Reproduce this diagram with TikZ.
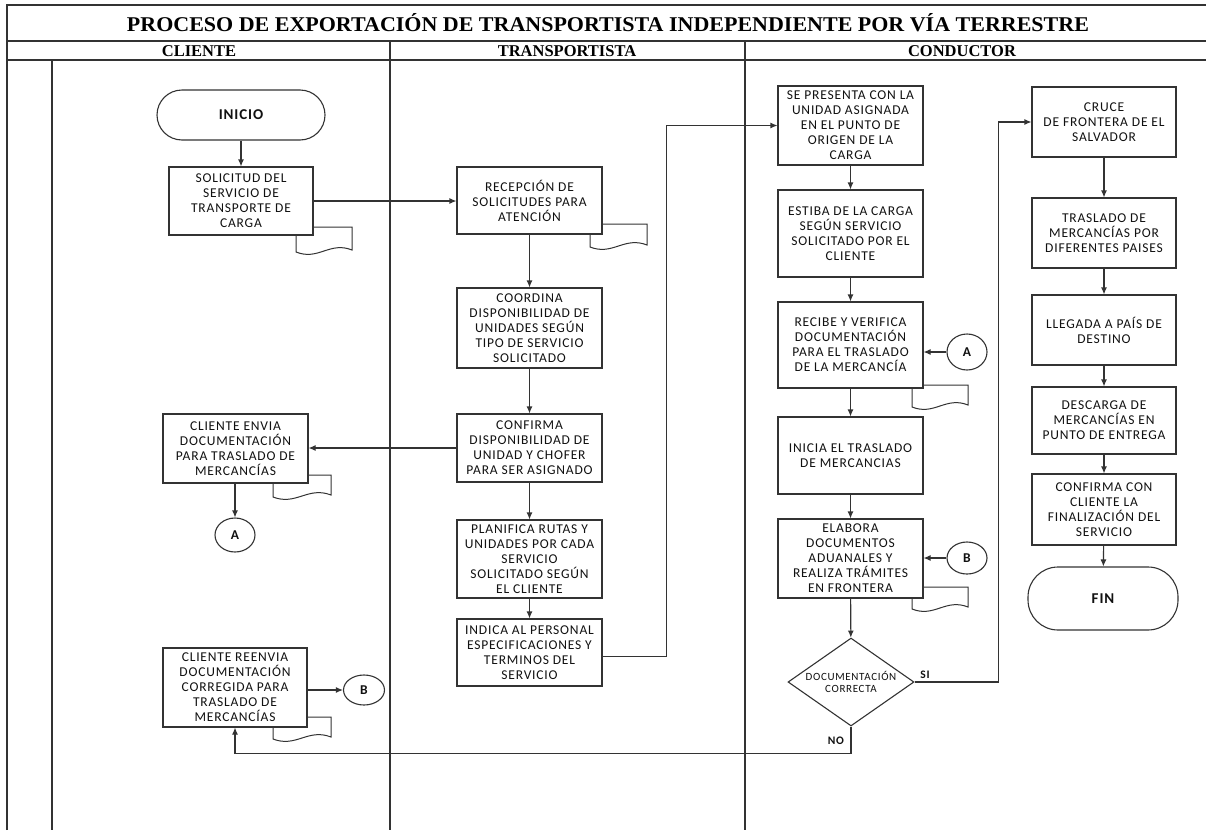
\documentclass[tikz,border=0pt]{standalone}
\usepackage{fontspec}
\usepackage{graphicx}
\usetikzlibrary{arrows.meta,shapes.geometric}
\newfontfamily\carl[LetterSpace=6]{Carlito}
\newfontfamily\tms{Liberation Serif}
\definecolor{lc}{HTML}{333333}
\definecolor{tc}{HTML}{111111}
\newcommand{\docw}[4]{\draw[docst] (#1,#2) -- (#3,#2) -- (#3,{#4-5}) .. controls ({#1+0.6*(#3-#1)},{#4-14}) and ({#1+0.4*(#3-#1)},{#4+6}) .. (#1,{#4-3}) -- cycle;}
\tikzset{
  docst/.style={draw=lc, line width=1pt, fill=white},
  box/.style={draw=lc, line width=1.1pt, fill=white, align=center, text=tc, inner sep=0pt,
    font=\carl\fontsize{13.5}{15}\selectfont},
  term/.style={draw=lc, line width=1.1pt, fill=white, rounded corners=25pt, text=tc, inner sep=0pt,
    font=\carl\bfseries\fontsize{15}{16}\selectfont},
  conn/.style={ellipse, draw=lc, line width=1.1pt, fill=white, text=tc, inner sep=0pt,
    font=\carl\bfseries\fontsize{13.5}{15}\selectfont},
  arr/.style={draw=lc, line width=1.1pt, -{Latex[length=7pt,width=6pt]}},
  lane/.style={draw=lc, line width=1.3pt},
  hdr/.style={font=\tms\bfseries\fontsize{16.5}{16.5}\selectfont, text=black, inner sep=0pt},
  lbl/.style={font=\carl\bfseries\fontsize{11.5}{12}\selectfont, text=tc, inner sep=0pt}
}
\begin{document}
\begin{tikzpicture}[x=1pt,y=-1pt]
\useasboundingbox (0,0) rectangle (1206,830);
% frame
\draw[lane, line width=2.2pt] (7,830) -- (7,5) -- (1206,5);
\draw[lane] (7,41) -- (1206,41);
\draw[lane] (7,60) -- (1206,60);
\draw[lane] (52,60) -- (52,830);
\draw[lane] (390,41) -- (390,830);
\draw[lane] (745,41) -- (745,830);
\node[hdr] (title) at (608,23) {\resizebox{962pt}{\height}{\fontsize{21}{21}\selectfont PROCESO DE EXPORTACIÓN DE TRANSPORTISTA INDEPENDIENTE POR VÍA TERRESTRE}};
\node[hdr] (h1) at (199,51) {CLIENTE};
\node[hdr] (h2) at (567,51) {TRANSPORTISTA};
\node[hdr] (h3) at (962,51) {CONDUCTOR};
% document shapes (behind boxes)
\docw{296}{227}{352}{255}
\docw{590}{224}{647}{250}
\docw{273}{475}{331}{500}
\docw{273}{717}{331}{742}
\docw{912}{385}{968}{410}
\docw{912}{587}{968}{612}
% client lane
\node[term, minimum width=168pt, minimum height=50pt] (inicio) at (241,115) {INICIO};
\node[box, minimum width=144pt, minimum height=68pt] (solicitud) at (241,201) {SOLICITUD DEL\\SERVICIO DE\\TRANSPORTE DE\\CARGA};
\node[box, minimum width=145pt, minimum height=69pt] (envia) at (235.5,448.5) {CLIENTE ENVIA\\DOCUMENTACIÓN\\PARA TRASLADO DE\\MERCANCÍAS};
\node[conn, minimum width=40pt, minimum height=34pt] (a1) at (235,535) {A};
\node[box, minimum width=144pt, minimum height=79pt] (reenvia) at (235,687.5) {CLIENTE REENVIA\\DOCUMENTACIÓN\\CORREGIDA PARA\\TRASLADO DE\\MERCANCÍAS};
\node[conn, minimum width=41pt, minimum height=30pt] (b1) at (364,690) {B};
% transportista lane
\node[box, minimum width=145pt, minimum height=67pt] (recepcion) at (529.5,200.5) {RECEPCIÓN DE\\SOLICITUDES PARA\\ATENCIÓN};
\node[box, minimum width=145pt, minimum height=80pt] (coordina) at (529.5,328) {COORDINA\\DISPONIBILIDAD DE\\UNIDADES SEGÚN\\TIPO DE SERVICIO\\SOLICITADO};
\node[box, minimum width=145pt, minimum height=68pt] (confirma) at (529.5,448) {CONFIRMA\\DISPONIBILIDAD DE\\UNIDAD Y CHOFER\\PARA SER ASIGNADO};
\node[box, minimum width=145pt, minimum height=78pt] (planifica) at (529.5,559) {PLANIFICA RUTAS Y\\UNIDADES POR CADA\\SERVICIO\\SOLICITADO SEGÚN\\EL CLIENTE};
\node[box, minimum width=145pt, minimum height=67pt] (indica) at (529.5,652.5) {INDICA AL PERSONAL\\ESPECIFICACIONES Y\\TERMINOS DEL\\SERVICIO};
% conductor lane
\node[box, minimum width=145pt, minimum height=79pt] (presenta) at (850.5,125.5) {SE PRESENTA CON LA\\UNIDAD ASIGNADA\\EN EL PUNTO DE\\ORIGEN DE LA\\CARGA};
\node[box, minimum width=145pt, minimum height=87pt] (estiba) at (850.5,233.5) {ESTIBA DE LA CARGA\\SEGÚN SERVICIO\\SOLICITADO POR EL\\CLIENTE};
\node[box, minimum width=145pt, minimum height=86pt] (recibe) at (850.5,345) {RECIBE Y VERIFICA\\DOCUMENTACIÓN\\PARA EL TRASLADO\\DE LA MERCANCÍA};
\node[conn, minimum width=40pt, minimum height=36pt] (a2) at (967,352) {A};
\node[box, minimum width=145pt, minimum height=77pt] (inicia) at (850.5,455.5) {INICIA EL TRASLADO\\DE MERCANCIAS};
\node[box, minimum width=145pt, minimum height=79pt] (elabora) at (850.5,558.5) {ELABORA\\DOCUMENTOS\\ADUANALES Y\\REALIZA TRÁMITES\\EN FRONTERA};
\node[conn, minimum width=40pt, minimum height=32pt] (b2) at (967,558) {B};
\node[diamond, draw=lc, line width=1.1pt, fill=white, inner sep=0pt,
  minimum width=126pt, minimum height=88pt] (dec) at (851,682) {};
\node[align=center, text=tc, inner sep=0pt, font=\carl\fontsize{11}{12.5}\selectfont] (dect) at (dec.center) {DOCUMENTACIÓN\\CORRECTA};
\node[lbl] (si) at (925,675) {SI};
\node[lbl] (no) at (836,741) {NO};
% right column
\node[box, minimum width=144pt, minimum height=70pt] (cruce) at (1104,122) {CRUCE\\DE FRONTERA DE EL\\SALVADOR};
\node[box, minimum width=144pt, minimum height=70pt] (traslado) at (1104,233) {TRASLADO DE\\MERCANCÍAS POR\\DIFERENTES PAISES};
\node[box, minimum width=144pt, minimum height=70pt] (llegada) at (1104,330) {LLEGADA A PAÍS DE\\DESTINO};
\node[box, minimum width=144pt, minimum height=67pt] (descarga) at (1104,420.5) {DESCARGA DE\\MERCANCÍAS EN\\PUNTO DE ENTREGA};
\node[box, minimum width=144pt, minimum height=71pt] (confcon) at (1104,509.5) {CONFIRMA CON\\CLIENTE LA\\FINALIZACIÓN DEL\\SERVICIO};
\node[term, minimum width=150pt, minimum height=63pt, rounded corners=30pt] (fin) at (1103,598.5) {FIN};
% connectors
\draw[arr] (inicio) -- (solicitud);
\draw[arr] (solicitud.east) -- (solicitud.east -| recepcion.west);
\draw[arr] (recepcion) -- (coordina);
\draw[arr] (coordina) -- (confirma);
\draw[arr] (confirma) -- (planifica);
\draw[arr] (planifica) -- (indica);
\draw[arr] (confirma.west) -- (confirma.west -| envia.east);
\draw[arr] (envia.south -| a1.north) -- (a1.north);
\draw[arr] (reenvia.east |- b1.west) -- (b1.west);
\draw[arr] (indica.east) ++(0,4) -- ++(64,0) |- (presenta.west);
\draw[arr] (presenta) -- (estiba);
\draw[arr] (estiba) -- (recibe);
\draw[arr] (a2.west) -- (a2.west -| recibe.east);
\draw[arr] (recibe) -- (inicia);
\draw[arr] (inicia) -- (elabora);
\draw[arr] (b2.west) -- (b2.west -| elabora.east);
\draw[arr] (elabora) -- (dec);
\draw[arr] (dec.east) -- ++(84,0) |- (cruce.west);
\draw[arr] (dec.south) -- ++(0,27) -| (reenvia.south);
\draw[arr] (cruce) -- (traslado);
\draw[arr] (traslado) -- (llegada);
\draw[arr] (llegada) -- (descarga);
\draw[arr] (descarga) -- (confcon);
\draw[arr] (confcon) -- (fin);
\end{tikzpicture}
\end{document}
